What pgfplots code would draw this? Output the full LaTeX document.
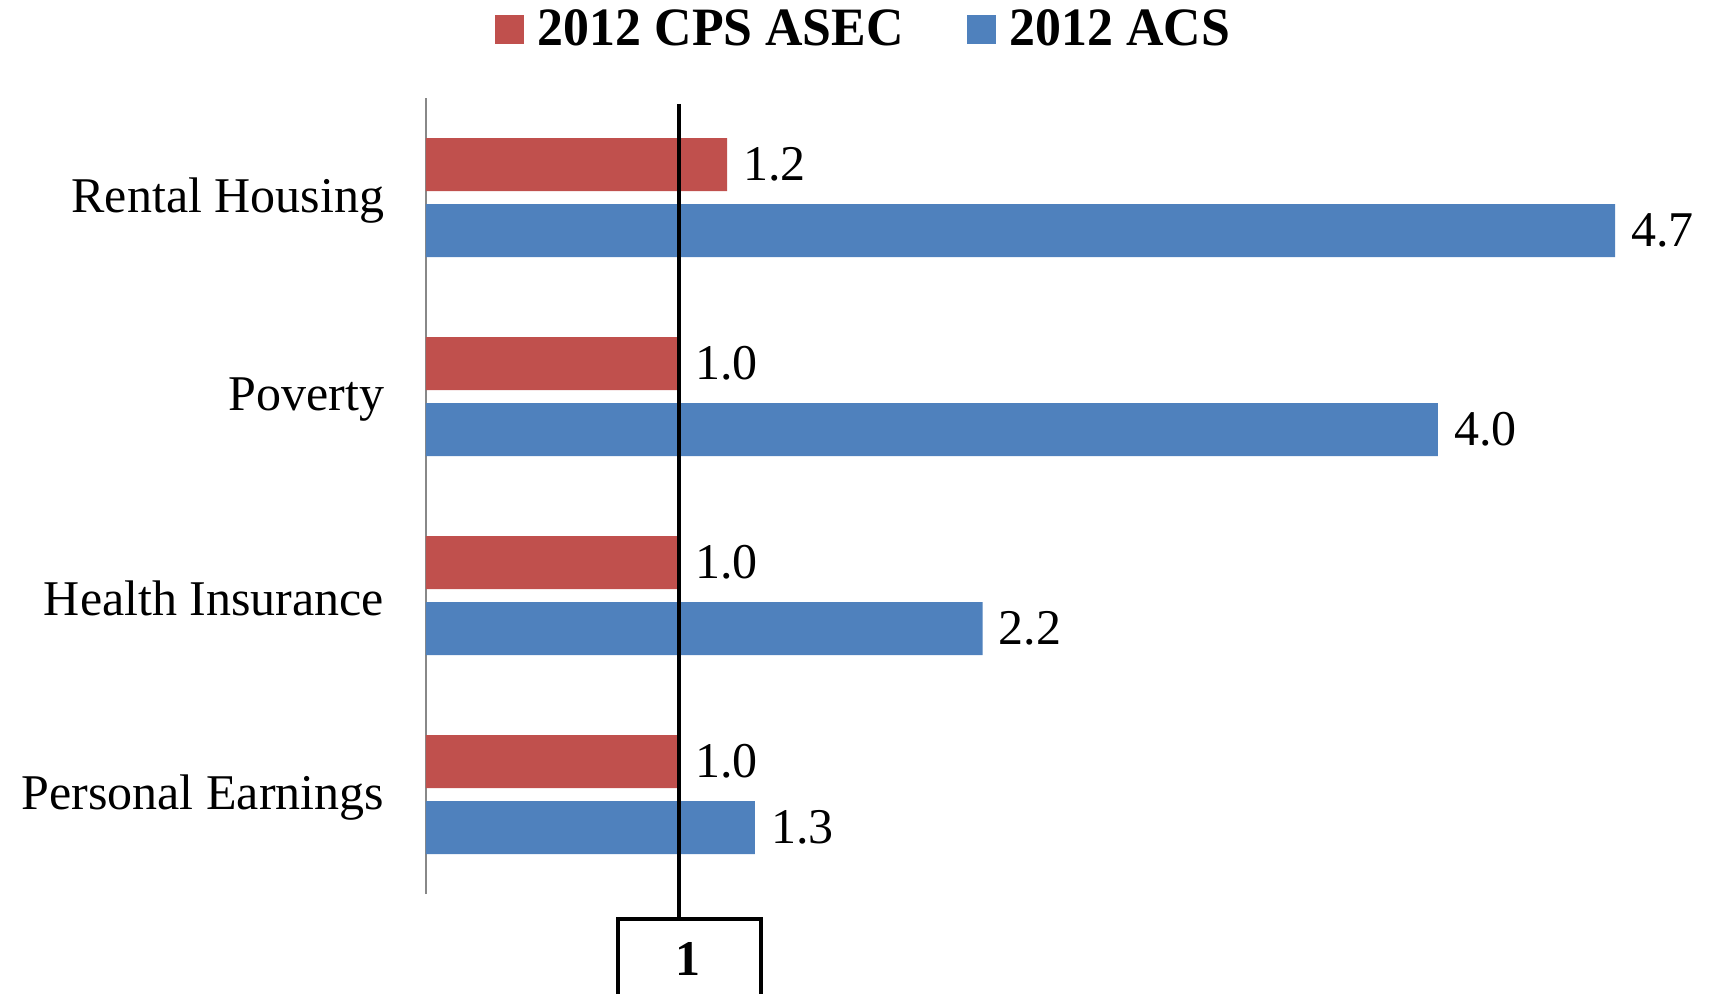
\documentclass[border=0pt]{standalone}
\usepackage{pgfplots}
\pgfplotsset{compat=1.18}
\usepackage{fontspec}
\setmainfont{Liberation Serif}
\newfontfamily\legfont[FakeStretch=0.96]{Liberation Serif}
\definecolor{cpsred}{HTML}{C0504D}
\definecolor{acsblue}{HTML}{4F81BD}
\definecolor{axgray}{HTML}{888888}
\begin{document}
\begin{tikzpicture}[x=1pt,y=1pt]
\useasboundingbox (0,0) rectangle (854.5,496.5);
\begin{axis}[
  at={(213pt,49.5pt)}, anchor=south west,
  scale only axis, width=594.5pt, height=398pt,
  xmin=0, xmax=4.7, ymin=-0.5, ymax=3.5,
  enlargelimits=false, clip=false,
  xbar, bar width=26.5pt,
  axis x line=none, axis y line*=left,
  y axis line style={draw=axgray, line width=1pt},
  ytick={0,1,2,3},
  yticklabels={Personal Earnings, Health Insurance, Poverty, Rental Housing},
  ytick style={draw=none},
  yticklabel style={font=\fontsize{25}{30}\selectfont, anchor=east, inner sep=0pt, xshift=-16.5pt, yshift=-1.6pt},
  xtick=\empty,
  /pgf/number format/fixed, /pgf/number format/fixed zerofill,
  /pgf/number format/precision=1, /pgf/number format/assume math mode=true,
  nodes near coords,
  every node near coord/.append style={font=\fontsize{25}{30}\selectfont, anchor=west, inner sep=0pt, xshift=8pt, text=black},
  legend columns=2,
  legend style={at={(axis description cs:0,1)}, anchor=west, xshift=34.5pt, yshift=34.25pt,
    draw=none, inner sep=0pt, outer sep=0pt,
    font=\legfont\bfseries\fontsize{27}{32}\selectfont,
    /tikz/every odd column/.append style={column sep=5pt},
    /tikz/every even column/.append style={column sep=29.5pt}},
  legend image code/.code={\fill[#1] (0pt,-7.25pt) rectangle (14.5pt,7.25pt);},
]
\addplot[fill=cpsred, draw=none, bar shift=16.5pt] coordinates {(1.0,0) (1.0,1) (1.0,2) (1.19,3)};
\addplot[fill=acsblue, draw=none, bar shift=-16.5pt] coordinates {(1.3,0) (2.2,1) (4.0,2) (4.7,3)};
\legend{2012 CPS ASEC, 2012 ACS}
\draw[line width=2pt] (axis cs:1,3.47) -- (axis cs:1,-0.625);
\draw[line width=2pt] (axis cs:0.759,-1.3) -- (axis cs:0.759,-0.625) -- (axis cs:1.324,-0.625) -- (axis cs:1.324,-1.3);
\node[font=\bfseries\fontsize{25}{30}\selectfont] at (axis cs:1.036,-0.826) {1};
\end{axis}
\end{tikzpicture}
\end{document}
